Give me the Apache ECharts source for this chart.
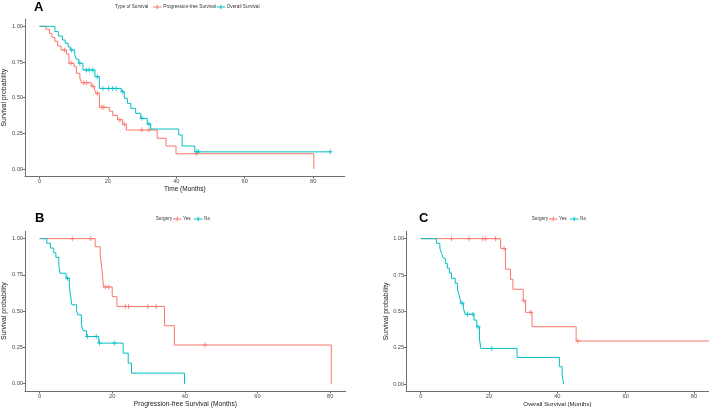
<!DOCTYPE html>
<html>
<head>
<meta charset="utf-8">
<script src="https://cdn.jsdelivr.net/npm/echarts@6/dist/echarts.min.js"></script>
<style>html,body{margin:0;padding:0;background:#fff}#c{width:709px;height:409px}</style>
</head>
<body>
<div id="c"></div>
<script>
// ---------- DATA ----------
const RED = '#F8766D', CYAN = '#00BFC4';
const yTicks = [0, 0.25, 0.5, 0.75, 1];
const xTicks = [0, 20, 40, 60, 80];
const labelsA = ['Progression-free Survival', 'Overall Survival'];
const labelsBC = ['Yes', 'No'];

// Panel A: step points [month, survival]
const pfsA = [[0,1],[1.9,0.98],[2.9,0.951],[3.6,0.923],[4.5,0.895],[5.3,0.862],[6.3,0.834],[7.9,0.805],[8.6,0.741],[10.1,0.717],[10.8,0.671],[11.8,0.636],[12.3,0.605],[15.1,0.58],[16.1,0.555],[16.6,0.53],[17.5,0.432],[20.4,0.405],[21.4,0.375],[22.8,0.345],[24.3,0.313],[25.4,0.273],[34.4,0.215],[37.0,0.161],[39.9,0.107],[80.2,0]];
const pfsACens = [[7.3,0.834],[9.2,0.741],[12.9,0.605],[13.7,0.605],[15.6,0.58],[16.9,0.53],[18.2,0.432],[18.8,0.432],[23.5,0.345],[24.8,0.313],[29.9,0.273],[32.0,0.273],[45.8,0.107]];
const osA = [[0,1],[4.5,0.963],[5.5,0.932],[6.7,0.904],[7.5,0.881],[8.4,0.857],[9.0,0.834],[10.3,0.80],[10.8,0.769],[11.5,0.741],[12.7,0.694],[16.2,0.647],[17.5,0.565],[23.9,0.542],[24.8,0.495],[25.7,0.46],[26.7,0.425],[28.1,0.39],[29.6,0.355],[31.5,0.315],[32.5,0.28],[40.7,0.238],[41.7,0.161],[45.4,0.12],[85,0.12]];
const osACens = [[9.4,0.834],[11.8,0.741],[13.7,0.694],[14.5,0.694],[15.6,0.694],[16.9,0.647],[18.5,0.565],[20.2,0.565],[21.4,0.565],[22.4,0.565],[24.3,0.542],[29.9,0.355],[32.0,0.315],[46.0,0.12],[46.5,0.12],[85,0.12]];

// Panel B: PFS by surgery
const pfsYes = [[0,1],[15.3,0.944],[16.7,0.889],[17.2,0.778],[17.6,0.667],[20.0,0.60],[21.3,0.533],[34.4,0.40],[37.1,0.267],[80.3,0]];
const pfsYesCens = [[9.0,1],[14.1,1],[18.1,0.667],[19.0,0.667],[23.6,0.533],[24.5,0.533],[29.8,0.533],[32.1,0.533],[45.5,0.267]];
const pfsNo = [[0,1],[2.0,0.968],[3.0,0.935],[3.9,0.903],[4.5,0.871],[5.3,0.822],[5.6,0.762],[7.3,0.727],[8.2,0.67],[8.5,0.61],[8.9,0.544],[10.2,0.502],[10.5,0.475],[11.5,0.406],[12.0,0.365],[12.9,0.326],[16.3,0.28],[23.0,0.211],[24.4,0.142],[25.3,0.073],[39.9,0]];
const pfsNoCens = [[7.7,0.727],[13.2,0.326],[15.6,0.326],[16.5,0.28],[20.6,0.28]];

// Panel C: OS by surgery
const osYes = [[0,1],[23.4,0.933],[24.8,0.79],[26.3,0.72],[27.0,0.652],[30.0,0.573],[30.7,0.493],[32.6,0.394],[45.5,0.296],[85,0.296]];
const osYesCens = [[9.0,1],[14.1,1],[18.2,1],[19.0,1],[21.9,1],[24.4,0.933],[30.2,0.573],[32.2,0.493],[46.0,0.296],[85,0.296]];
const osNo = [[0,1],[4.6,0.968],[5.6,0.934],[6.1,0.899],[6.6,0.865],[7.2,0.830],[7.8,0.797],[8.4,0.764],[9.0,0.727],[10.1,0.693],[10.8,0.647],[11.3,0.606],[11.8,0.556],[12.5,0.521],[13.0,0.480],[15.6,0.440],[16.4,0.394],[17.2,0.31],[17.6,0.245],[28.2,0.183],[40.6,0.119],[41.4,0.06],[41.9,0]];
const osNoCens = [[12.1,0.556],[13.7,0.48],[15.3,0.48],[16.8,0.394],[20.8,0.245]];

// ---------- CHART ----------
const FONT = '"Liberation Sans", Arial, sans-serif';
const PLUS = 'path://M0,2L5,2L5,3L0,3Z M2,0L3,0L3,5L2,5Z';
const AX = '#6f6f6f';

function xAxis(gi, min, max, name, nameSize) {
  return {
    type: 'value', gridIndex: gi, min: min, max: max,
    name: name, nameLocation: 'middle', nameGap: 9,
    nameTextStyle: {fontSize: nameSize, color: '#1a1a1a', fontFamily: FONT},
    splitLine: {show: false},
    axisLine: {show: true, onZero: false, lineStyle: {color: AX, width: 1}},
    axisTick: {show: true, length: 2.5, customValues: xTicks, lineStyle: {color: AX}},
    axisLabel: {customValues: xTicks, fontSize: 5.7, color: '#4d4d4d', margin: 2.5, fontFamily: FONT,
      formatter: v => String(Math.round(v))}
  };
}
function yAxis(gi) {
  return {
    type: 'value', gridIndex: gi, min: -0.05, max: 1.05,
    name: 'Survival probability', nameLocation: 'middle', nameGap: 13, nameRotate: 90,
    nameTextStyle: {fontSize: 6.9, color: '#1a1a1a', fontFamily: FONT},
    splitLine: {show: false},
    axisLine: {show: true, onZero: false, lineStyle: {color: AX, width: 1}},
    axisTick: {show: true, length: 2.5, customValues: yTicks, lineStyle: {color: AX}},
    axisLabel: {customValues: yTicks, fontSize: 5.7, color: '#4d4d4d', margin: 2, fontFamily: FONT,
      formatter: v => v.toFixed(2)}
  };
}
function curve(name, data, color, gi) {
  return {type: 'line', name: name, data: data, step: 'end', xAxisIndex: gi, yAxisIndex: gi,
    showSymbol: false, symbol: 'none', silent: true, animation: false,
    lineStyle: {color: color, width: 1}, itemStyle: {color: color}};
}
function cens(name, data, color, gi) {
  return {type: 'scatter', name: name, data: data, xAxisIndex: gi, yAxisIndex: gi,
    symbol: PLUS, symbolSize: 5, silent: true, animation: false, itemStyle: {color: color}};
}

// legend drawing helpers (graphic)
const graphics = [];
function txt(x, y, s, size, bold) {
  graphics.push({type: 'text', x: x, y: y, silent: true,
    style: {text: s, fill: bold ? '#000' : '#333', font: (bold ? 'bold ' : '') + size + 'px ' + FONT,
      textAlign: 'left', textVerticalAlign: 'middle'}});
}
function key(x, y, color) {
  graphics.push({type: 'line', silent: true, shape: {x1: x, y1: y, x2: x + 8.5, y2: y}, style: {stroke: color, lineWidth: 1}});
  graphics.push({type: 'line', silent: true, shape: {x1: x + 4.25, y1: y - 2.2, x2: x + 4.25, y2: y + 2.2}, style: {stroke: color, lineWidth: 1}});
}
// panel letters
txt(34, 7, 'A', 13, true);
txt(35, 218, 'B', 13, true);
txt(419, 218, 'C', 13, true);
// legend A
txt(115, 7, 'Type of Survival', 4.7);
key(153, 7, RED); txt(163.3, 7, labelsA[0], 4.7);
key(216.7, 7, CYAN); txt(226.7, 7, labelsA[1], 4.7);
// legend B and C
[[0, 219], [376, 219]].forEach(([dx, y]) => {
  txt(155.7 + dx, y, 'Surgery', 4.7);
  key(173 + dx, y, RED); txt(183 + dx, y, labelsBC[0], 4.7);
  key(194 + dx, y, CYAN); txt(204 + dx, y, labelsBC[1], 4.7);
});

const option = {
  backgroundColor: '#fff',
  animation: false,
  textStyle: {fontFamily: FONT},
  grid: [
    {left: 21.3, top: 19.2, width: 323.5, height: 156.9},
    {left: 21.3, top: 231.4, width: 324.5, height: 159.9},
    {left: 406.2, top: 231.4, width: 302.3, height: 159.9}
  ],
  xAxis: [
    xAxis(0, -4.25, 89.25, 'Time (Months)', 6.5),
    Object.assign(xAxis(1, -4.02, 84.3, 'Progression-free Survival (Months)', 6.7), {nameGap: 10}),
    Object.assign(xAxis(2, -4.25, 84.25, 'Overall Survival (Months)', 6.1), {nameGap: 10})
  ],
  yAxis: [yAxis(0), yAxis(1), yAxis(2)],
  series: [
    curve(labelsA[0], pfsA, RED, 0), cens('pfsA+', pfsACens, RED, 0),
    curve(labelsA[1], osA, CYAN, 0), cens('osA+', osACens, CYAN, 0),
    curve('Yes', pfsYes, RED, 1), cens('pfsYes+', pfsYesCens, RED, 1),
    curve('No', pfsNo, CYAN, 1), cens('pfsNo+', pfsNoCens, CYAN, 1),
    curve('Yes', osYes, RED, 2), cens('osYes+', osYesCens, RED, 2),
    curve('No', osNo, CYAN, 2), cens('osNo+', osNoCens, CYAN, 2)
  ],
  graphic: graphics
};
const chart = echarts.init(document.getElementById('c'), null, {renderer: 'canvas'});
chart.setOption(option);
</script>
</body>
</html>
